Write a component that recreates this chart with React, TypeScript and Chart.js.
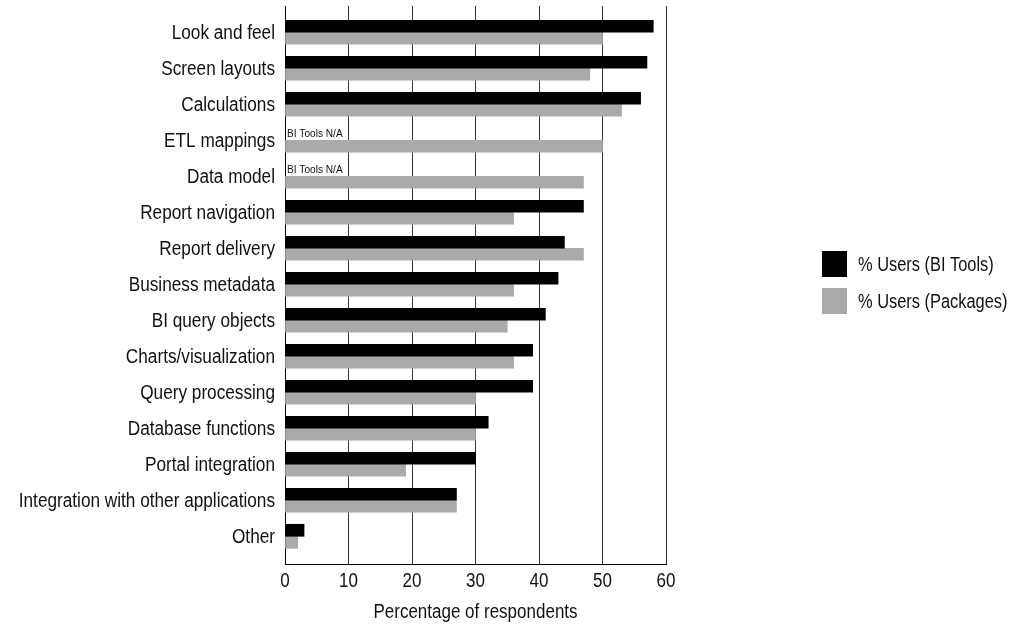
import { useEffect, useRef } from "react";
import { Chart, registerables } from "chart.js";

Chart.register(...registerables);

// Survey categories, top to bottom
const categories = [
  "Look and feel",
  "Screen layouts",
  "Calculations",
  "ETL mappings",
  "Data model",
  "Report navigation",
  "Report delivery",
  "Business metadata",
  "BI query objects",
  "Charts/visualization",
  "Query processing",
  "Database functions",
  "Portal integration",
  "Integration with other applications",
  "Other",
];

// Percentage of respondents per series (null = not applicable)
const biTools: (number | null)[] = [58, 57, 56, null, null, 47, 44, 43, 41, 39, 39, 32, 30, 27, 3];
const packages: number[] = [50, 48, 53, 50, 47, 36, 47, 36, 35, 36, 30, 30, 19, 27, 2];

const seriesLabels = ["% Users (BI Tools)", "% Users (Packages)"];
const seriesColors = ["#000000", "#aaaaaa"];

const xTicks = [0, 10, 20, 30, 40, 50, 60];
const xTitle = "Percentage of respondents";
const naLabel = "BI Tools N/A";

const FONT = '"Liberation Sans", Arial, sans-serif';

// Draws text squeezed horizontally to get a condensed face
function condensedText(
  ctx: CanvasRenderingContext2D,
  text: string,
  x: number,
  baseline: number,
  size: number,
  align: CanvasTextAlign,
  squeeze: number
) {
  ctx.save();
  ctx.translate(x, baseline);
  ctx.scale(squeeze, 1);
  ctx.font = `${size}px ${FONT}`;
  ctx.fillStyle = "#111";
  ctx.textAlign = align;
  ctx.textBaseline = "alphabetic";
  ctx.fillText(text, 0, 0);
  ctx.restore();
}

// Axis labels, axis title and the "N/A" notes
const labelPlugin = {
  id: "condensedLabels",
  afterDraw(chart: any) {
    const { ctx, chartArea } = chart;
    const x = chart.scales.x;
    const y = chart.scales.y;

    y.ticks.forEach((t: any) => {
      const label = categories[t.value];
      if (label) condensedText(ctx, label, chartArea.left - 10, y.getPixelForValue(t.value) + 7, 20, "right", 0.86);
    });

    x.ticks.forEach((t: any) => {
      condensedText(ctx, String(t.value), x.getPixelForValue(t.value), chartArea.bottom + 23, 20, "center", 0.85);
    });

    condensedText(ctx, xTitle, (chartArea.left + chartArea.right) / 2, chartArea.bottom + 54, 20, "center", 0.85);

    biTools.forEach((v, i) => {
      if (v === null) {
        condensedText(ctx, naLabel, x.getPixelForValue(0) + 2, y.getPixelForValue(i) - 3, 11, "left", 0.92);
      }
    });
  },
};

// Legend with square swatches, placed to the right of the plot
const legendPlugin = {
  id: "sideLegend",
  afterDraw(chart: any) {
    const { ctx, chartArea } = chart;
    const left = 822;
    const boxW = 25;
    const boxH = 26;
    const rowGap = 37;
    const mid = (chartArea.top + chartArea.bottom) / 2;
    const top0 = mid - 34;
    chart.data.datasets.forEach((ds: any, i: number) => {
      const top = top0 + i * rowGap;
      ctx.save();
      ctx.fillStyle = ds.backgroundColor;
      ctx.fillRect(left, top, boxW, boxH);
      ctx.restore();
      condensedText(ctx, ds.label, left + boxW + 11, top + boxH / 2 + 7, 20, "left", 0.82);
    });
  },
};

export default function App() {
  const canvasRef = useRef<HTMLCanvasElement | null>(null);

  useEffect(() => {
    if (!canvasRef.current) return;
    const chart = new Chart(canvasRef.current, {
      type: "bar",
      data: {
        datasets: [
          {
            label: seriesLabels[0],
            data: categories.map((_, i) => ({ x: biTools[i], y: i })) as any,
            backgroundColor: seriesColors[0],
            barThickness: 12,
          },
          {
            label: seriesLabels[1],
            data: categories.map((_, i) => ({ x: packages[i], y: i })) as any,
            backgroundColor: seriesColors[1],
            barThickness: 12,
          },
        ],
      },
      options: {
        indexAxis: "y",
        animation: false,
        responsive: true,
        maintainAspectRatio: false,
        layout: { padding: { left: 0, right: 352, top: 6, bottom: 0 } },
        plugins: {
          legend: { display: false },
          tooltip: { enabled: false },
        },
        scales: {
          x: {
            type: "linear",
            position: "bottom",
            min: 0,
            max: 60,
            offset: false,
            afterFit(s: any) {
              s.height = 61;
              s.paddingLeft = 0;
              s.paddingRight = 0;
            },
            afterBuildTicks(s: any) {
              s.ticks = xTicks.map((v) => ({ value: v }));
            },
            ticks: { display: false },
            grid: { color: "#333", drawTicks: false, lineWidth: 1, offset: false },
            border: { display: true, color: "#000", width: 1 },
          },
          y: {
            type: "linear",
            reverse: true,
            min: -0.73,
            max: 14.77,
            offset: false,
            afterFit(s: any) {
              s.width = 285;
              s.paddingTop = 0;
              s.paddingBottom = 0;
            },
            afterBuildTicks(s: any) {
              s.ticks = categories.map((_, i) => ({ value: i }));
            },
            ticks: { display: false },
            grid: { display: false, drawTicks: false, offset: false },
            border: { display: true, color: "#000", width: 1 },
          },
        },
      },
      plugins: [labelPlugin, legendPlugin],
    });
    return () => chart.destroy();
  }, []);

  return (
    <div style={{ position: "absolute", left: 0, top: 0, width: 1018, height: 625 }}>
      <canvas ref={canvasRef} />
    </div>
  );
}
